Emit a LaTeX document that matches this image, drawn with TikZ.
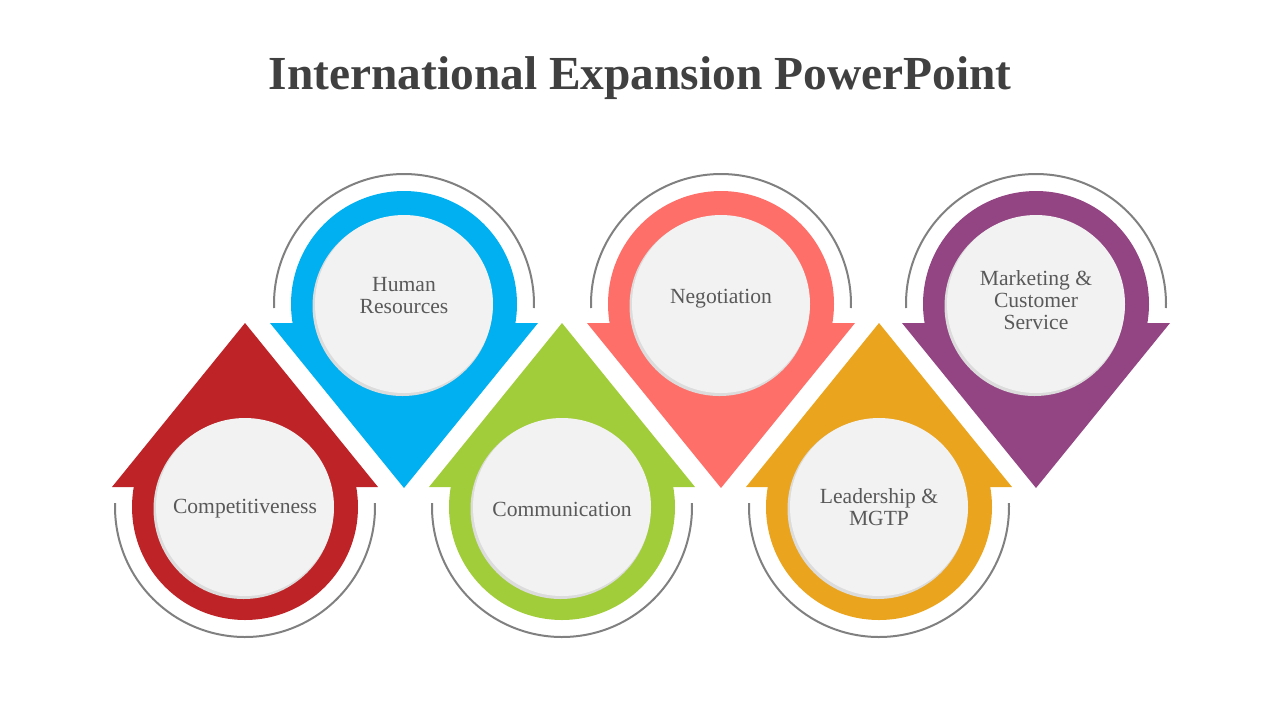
\documentclass[tikz,border=0pt]{standalone}
\usepackage{fontspec}
\setmainfont{Liberation Serif}
\usepackage{tikz}
\usetikzlibrary{positioning}

\definecolor{redc}{HTML}{BE2327}
\definecolor{bluec}{HTML}{00B0F0}
\definecolor{greenc}{HTML}{A2CD3A}
\definecolor{salmonc}{HTML}{FF6F69}
\definecolor{orangec}{HTML}{EAA41E}
\definecolor{purplec}{HTML}{934483}
\definecolor{panelc}{HTML}{F2F2F2}
\definecolor{shadec}{HTML}{DCDCDC}
\definecolor{rimc}{HTML}{808080}
\definecolor{txtc}{HTML}{595959}
\definecolor{titlec}{HTML}{404040}

\begin{document}
\begin{tikzpicture}[x=0.5pt, y=-0.5pt,
  rim/.style={draw=rimc, line width=1pt},
  label/.style={align=center, text=txtc, font=\fontsize{10.8}{11}\selectfont},
  title/.style={text=titlec, font=\fontsize{23.7}{28}\selectfont\bfseries},
  pics/uparrow/.style={code={
    \fill[#1] (-133,-20) -- (0,-184) -- (133,-20) -- cycle;
    \fill[#1] (0,0) circle[radius=113];
    \fill[shadec] (-1.5,2) circle[radius=90];
    \fill[panelc] (0,0) circle[radius=89];
    \draw[rim] (-1.76:130) arc[start angle=-1.76, end angle=181.76, radius=130];
  }},
  pics/downarrow/.style={code={
    \fill[#1] (-134,19) -- (0,184) -- (134,19) -- cycle;
    \fill[#1] (0,0) circle[radius=113];
    \fill[shadec] (-1.5,2) circle[radius=90];
    \fill[panelc] (0,0) circle[radius=89];
    \draw[rim] (178.24:130) arc[start angle=178.24, end angle=361.76, radius=130];
  }}]
\useasboundingbox (0,0) rectangle (1280,720);
\node[title, anchor=base] (head) at (640,89) {International Expansion PowerPoint};
% up and down arrows
\pic at (245,507) {uparrow=redc};
\pic at (404,304) {downarrow=bluec};
\pic at (562,507) {uparrow=greenc};
\pic at (721,304) {downarrow=salmonc};
\pic at (879,507) {uparrow=orangec};
\pic at (1036,304) {downarrow=purplec};
% labels
\node[label] (compet) at (245,509) {Competitiveness};
\node[label] (hr) at (404,296) {Human\\Resources};
\node[label] (comm) at (562,509) {Communication};
\node[label] (nego) at (721,299) {Negotiation};
\node[label] (lead) at (879,507) {Leadership \&\\MGTP};
\node[label] (market) at (1036,300) {Marketing \&\\Customer\\Service};
\end{tikzpicture}
\end{document}
